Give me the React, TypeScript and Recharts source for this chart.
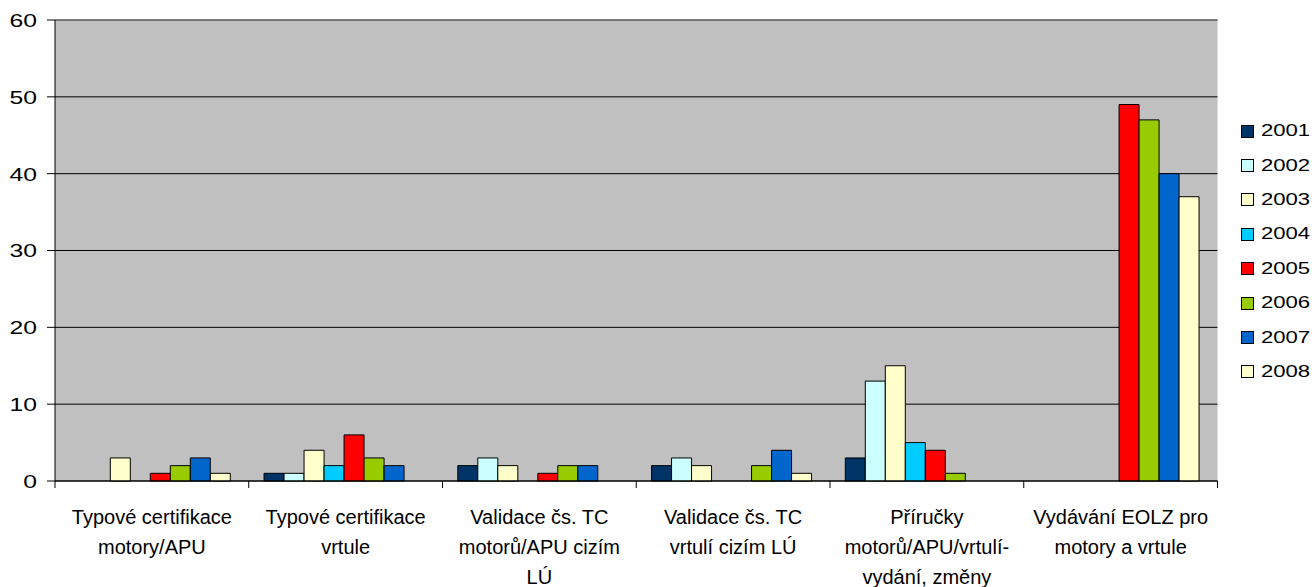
import { BarChart, Bar, XAxis, YAxis, CartesianGrid, Legend, ReferenceLine } from "recharts";

const categories = [
    "Typové certifikace\nmotory/APU",
    "Typové certifikace\nvrtule",
    "Validace čs. TC\nmotorů/APU cizím\nLÚ",
    "Validace čs. TC\nvrtulí cizím LÚ",
    "Příručky\nmotorů/APU/vrtulí-\nvydání, změny",
    "Vydávání EOLZ pro\nmotory a vrtule",
];

const years = ["2001", "2002", "2003", "2004", "2005", "2006", "2007", "2008"];

const v2001 = [0, 1, 2, 2, 3, 0];
const v2002 = [0, 1, 3, 3, 13, 0];
const v2003 = [3, 4, 2, 2, 15, 0];
const v2004 = [0, 2, 0, 0, 5, 0];
const v2005 = [1, 6, 1, 0, 4, 49];
const v2006 = [2, 3, 2, 2, 1, 47];
const v2007 = [3, 2, 2, 4, 0, 40];
const v2008 = [1, 0, 0, 1, 0, 37];

const yTicks = [0, 10, 20, 30, 40, 50, 60];

const colors = ["#003366", "#CCFFFF", "#FFFFCC", "#00CCFF", "#FF0000", "#99CC00", "#0066CC", "#FFFFCC"];

const series = [v2001, v2002, v2003, v2004, v2005, v2006, v2007, v2008];

const data = categories.map((name, i) => {
    const row: Record<string, string | number> = { name };
    years.forEach((yr, s) => {
        row[yr] = series[s][i];
    });
    return row;
});

const FONT = "'Liberation Sans', Arial, sans-serif";

function CategoryTick(props: any) {
    const { x, y, payload, index, visibleTicksCount } = props;
    const half = payload.offset ?? 96.9;
    const lines = String(payload.value).split("\n");
    const isLast = index === visibleTicksCount - 1;
    return (
        <g>
            <line x1={x - half} x2={x - half} y1={y - 7} y2={y} stroke="#000" />
            {isLast && <line x1={x + half} x2={x + half} y1={y - 7} y2={y} stroke="#000" />}
            <text x={x} y={y + 36} textAnchor="middle" fontFamily={FONT} fontSize={20} fill="#000">
                {lines.map((l, i) => (
                    <tspan key={i} x={x} dy={i === 0 ? 0 : 30}>
                        {l}
                    </tspan>
                ))}
            </text>
        </g>
    );
}

function ValueTick(props: any) {
    const { x, y, payload } = props;
    return (
        <text
            transform={`translate(${x},${y}) scale(1.3,1)`}
            textAnchor="end"
            dy="0.36em"
            fontFamily={FONT}
            fontSize={19}
            fill="#000"
        >
            {payload.value}
        </text>
    );
}

function YearLegend() {
    return (
        <div style={{ fontFamily: FONT }}>
            {years.map((yr, i) => (
                <div key={yr} style={{ display: "flex", alignItems: "center", height: 34.4 }}>
                    <div
                        style={{
                            width: 11,
                            height: 11,
                            background: colors[i],
                            border: "1px solid #000",
                            marginRight: 7,
                        }}
                    />
                    <span
                        style={{
                            fontSize: 17,
                            display: "inline-block",
                            transform: "scaleX(1.3)",
                            transformOrigin: "left center",
                            color: "#000",
                        }}
                    >
                        {yr}
                    </span>
                </div>
            ))}
        </div>
    );
}

export default function App() {
    return (
        <div style={{ width: 1312, height: 587, background: "#fff" }}>
            <style>{"body{margin:0}"}</style>
            <BarChart
                width={1312}
                height={587}
                data={data}
                margin={{ top: 20, right: 94.5, left: 0, bottom: 0 }}
                barCategoryGap="7.9%"
                barGap={0}
            >
                <CartesianGrid vertical={false} stroke="#000" fill="#C0C0C0" fillOpacity={1} />
                <XAxis
                    dataKey="name"
                    interval={0}
                    height={106}
                    tickLine={false}
                    tickSize={7}
                    tickMargin={0}
                    axisLine={{ stroke: "#000" }}
                    tick={<CategoryTick />}
                />
                <YAxis
                    width={55}
                    domain={[0, 60]}
                    ticks={yTicks}
                    interval={0}
                    tickSize={8}
                    tickMargin={10}
                    axisLine={{ stroke: "#000" }}
                    tickLine={{ stroke: "#000" }}
                    tick={<ValueTick />}
                />
                <YAxis
                    yAxisId="border"
                    orientation="right"
                    width={0}
                    domain={[0, 60]}
                    tick={false}
                    tickLine={false}
                    axisLine={{ stroke: "#808080" }}
                />
                <ReferenceLine y={60} stroke="#808080" />
                <Legend
                    layout="horizontal"
                    align="center"
                    verticalAlign="middle"
                    content={<YearLegend />}
                    wrapperStyle={{ left: 1241, top: 114, width: 70 }}
                />
                {years.map((yr, i) => (
                    <Bar key={yr} dataKey={yr} fill={colors[i]} stroke="#000" strokeWidth={1} isAnimationActive={false} />
                ))}
            </BarChart>
        </div>
    );
}
